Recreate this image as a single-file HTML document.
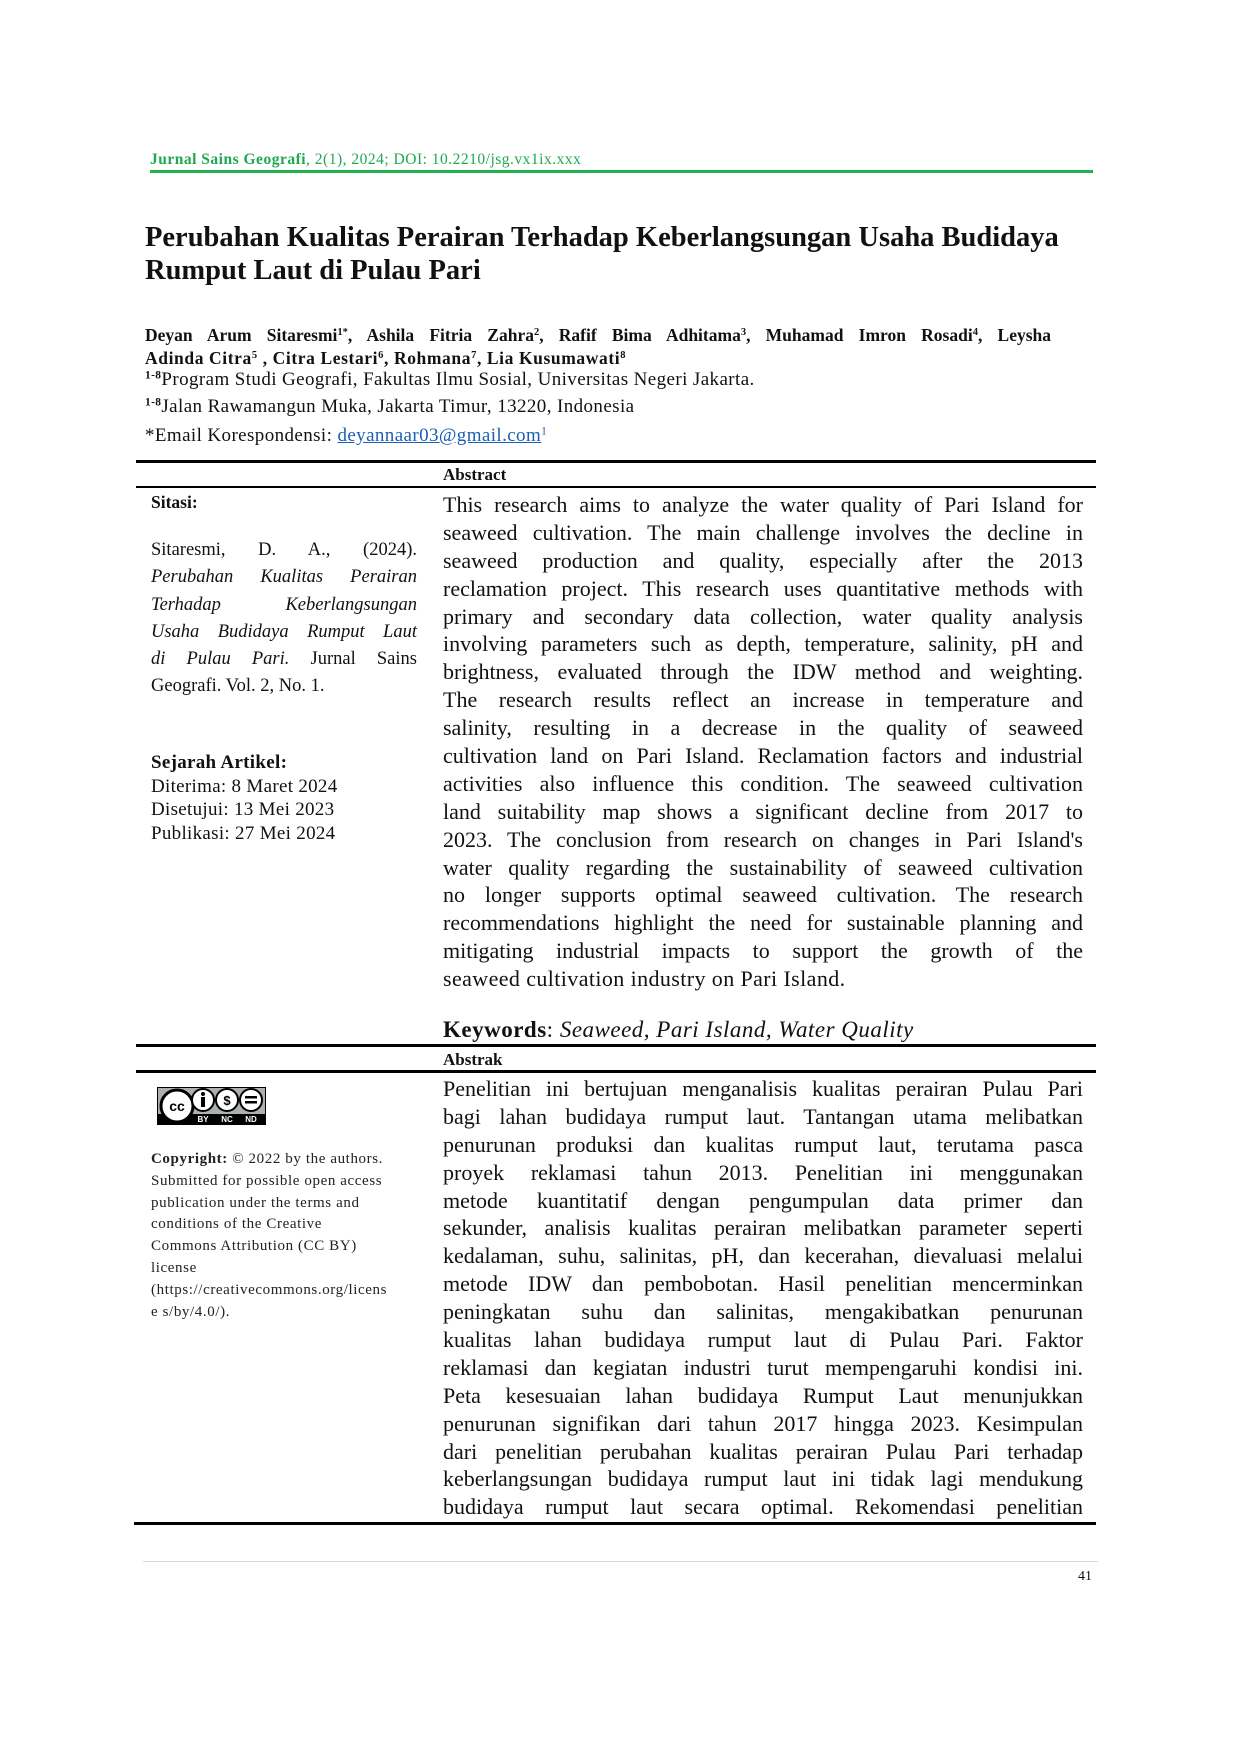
<!DOCTYPE html>
<html><head><meta charset="utf-8">
<style>
*{margin:0;padding:0;box-sizing:border-box}
body{width:1240px;height:1754px;background:#fff;position:relative;font-family:"Liberation Serif",serif;color:#111;overflow:hidden}
.a{position:absolute;white-space:nowrap}
.j{text-align:justify;text-align-last:justify;white-space:normal}
.hr{position:absolute;background:#000}
.blk div{height:27.9px;line-height:27.9px}
sup{font-size:0.6em;line-height:0;vertical-align:0.55em}
</style></head><body>
<div class="a" style="left:150px;top:150px;font-size:15.5px;letter-spacing:0.5px;color:#1fa84f;line-height:20px"><b>Jurnal Sains Geografi</b>, 2(1), 2024; DOI: 10.2210/jsg.vx1ix.xxx</div>
<div class="hr" style="left:150px;top:170px;width:943px;height:3px;background:#1fb24f"></div>

<div class="a" style="left:145px;top:221px;font-size:28.5px;font-weight:bold;line-height:33px">Perubahan Kualitas Perairan Terhadap Keberlangsungan Usaha Budidaya<br>Rumput Laut di Pulau Pari</div>

<div class="a j" style="left:145px;top:324px;width:906px;font-size:17.5px;font-weight:bold;line-height:23px">Deyan Arum Sitaresmi<sup>1*</sup>, Ashila Fitria Zahra<sup>2</sup>, Rafif Bima Adhitama<sup>3</sup>, Muhamad Imron Rosadi<sup>4</sup>, Leysha</div>
<div class="a" style="left:145px;top:347px;font-size:17.5px;letter-spacing:0.6px;font-weight:bold;line-height:23px">Adinda Citra<sup>5</sup> , Citra Lestari<sup>6</sup>, Rohmana<sup>7</sup>, Lia Kusumawati<sup>8</sup></div>
<div class="a" style="left:145px;top:368px;font-size:19px;letter-spacing:0.4px;line-height:23px"><sup><b>1-8</b></sup>Program Studi Geografi, Fakultas Ilmu Sosial, Universitas Negeri Jakarta.</div>
<div class="a" style="left:145px;top:395px;font-size:19px;letter-spacing:0.4px;line-height:23px"><sup><b>1-8</b></sup>Jalan Rawamangun Muka, Jakarta Timur, 13220, Indonesia</div>
<div class="a" style="left:145px;top:424px;font-size:19px;letter-spacing:0.4px;line-height:23px">*Email Korespondensi: <span style="color:#1a5fb4;text-decoration:underline">deyannaar03@gmail.com</span><sup style="color:#1a5fb4">1</sup></div>

<div class="hr" style="left:136px;top:460px;width:960px;height:3px"></div>
<div class="a" style="left:443px;top:465px;font-size:17px;font-weight:bold;line-height:20px">Abstract</div>
<div class="hr" style="left:136px;top:486px;width:960px;height:2px"></div>

<div class="a" style="left:151px;top:492px;font-size:17.5px;font-weight:bold;line-height:20px">Sitasi:</div>
<div class="a" style="left:151px;top:537px;width:266px;font-size:18.5px;line-height:27.3px;white-space:normal">
<div class="j" style="height:27.3px">Sitaresmi, D. A., (2024).</div>
<div class="j" style="height:27.3px"><i>Perubahan Kualitas Perairan</i></div>
<div class="j" style="height:27.3px"><i>Terhadap Keberlangsungan</i></div>
<div class="j" style="height:27.3px"><i>Usaha Budidaya Rumput Laut</i></div>
<div class="j" style="height:27.3px"><i>di Pulau Pari.</i> Jurnal Sains</div>
<div style="height:27.3px">Geografi. Vol. 2, No. 1.</div>
</div>
<div class="a" style="left:151px;top:751px;font-size:19px;letter-spacing:0.3px;line-height:23.5px"><b>Sejarah Artikel:</b><br>Diterima: 8 Maret 2024<br>Disetujui: 13 Mei 2023<br>Publikasi: 27 Mei 2024</div>

<div class="a blk" style="left:443px;top:491px;width:640px;font-size:22px;white-space:normal">
<div class="j">This research aims to analyze the water quality of Pari Island for</div>
<div class="j">seaweed cultivation. The main challenge involves the decline in</div>
<div class="j">seaweed production and quality, especially after the 2013</div>
<div class="j">reclamation project. This research uses quantitative methods with</div>
<div class="j">primary and secondary data collection, water quality analysis</div>
<div class="j">involving parameters such as depth, temperature, salinity, pH and</div>
<div class="j">brightness, evaluated through the IDW method and weighting.</div>
<div class="j">The research results reflect an increase in temperature and</div>
<div class="j">salinity, resulting in a decrease in the quality of seaweed</div>
<div class="j">cultivation land on Pari Island. Reclamation factors and industrial</div>
<div class="j">activities also influence this condition. The seaweed cultivation</div>
<div class="j">land suitability map shows a significant decline from 2017 to</div>
<div class="j">2023. The conclusion from research on changes in Pari Island's</div>
<div class="j">water quality regarding the sustainability of seaweed cultivation</div>
<div class="j">no longer supports optimal seaweed cultivation. The research</div>
<div class="j">recommendations highlight the need for sustainable planning and</div>
<div class="j">mitigating industrial impacts to support the growth of the</div>
<div style="letter-spacing:0.4px">seaweed cultivation industry on Pari Island.</div>
</div>
<div class="a" style="left:443px;top:1017px;font-size:23px;letter-spacing:0.5px;line-height:26px"><b>Keywords</b>: <i>Seaweed, Pari Island, Water Quality</i></div>
<div class="hr" style="left:136px;top:1044px;width:960px;height:3px"></div>
<div class="a" style="left:443px;top:1050px;font-size:17px;font-weight:bold;line-height:20px">Abstrak</div>
<div class="hr" style="left:136px;top:1070px;width:960px;height:3px"></div>

<svg class="a" style="left:157px;top:1087px" width="109" height="38" viewBox="0 0 109 38">
<rect width="109" height="38" fill="#000"/>
<rect x="1" y="1" width="107" height="26" fill="#aab2ab"/>
<circle cx="20" cy="19" r="16" fill="#fff" stroke="#000" stroke-width="3"/>
<text x="20" y="24" font-family="Liberation Sans" font-weight="bold" font-size="14" text-anchor="middle">cc</text>
<circle cx="46" cy="13" r="11" fill="#fff" stroke="#000" stroke-width="2"/>
<circle cx="46" cy="7" r="2" fill="#000"/><rect x="44" y="10" width="4" height="10" fill="#000"/>
<circle cx="70" cy="13" r="11" fill="#fff" stroke="#000" stroke-width="2"/>
<text x="70" y="18" font-family="Liberation Sans" font-weight="bold" font-size="13" text-anchor="middle">$</text>
<circle cx="94" cy="13" r="11" fill="#fff" stroke="#000" stroke-width="2"/>
<rect x="88" y="9" width="12" height="2.5" fill="#000"/><rect x="88" y="14" width="12" height="2.5" fill="#000"/>
<text x="46" y="35" fill="#fff" font-family="Liberation Sans" font-weight="bold" font-size="8" text-anchor="middle">BY</text>
<text x="70" y="35" fill="#fff" font-family="Liberation Sans" font-weight="bold" font-size="8" text-anchor="middle">NC</text>
<text x="94" y="35" fill="#fff" font-family="Liberation Sans" font-weight="bold" font-size="8" text-anchor="middle">ND</text>
</svg>
<div class="a" style="left:151px;top:1149px;font-size:15px;letter-spacing:0.6px;line-height:21.8px;color:#222"><b>Copyright:</b> © 2022 by the authors.<br>Submitted for possible open access<br>publication under the terms and<br>conditions of the Creative<br>Commons Attribution (CC BY)<br>license<br>(https://creativecommons.org/licens<br>e s/by/4.0/).</div>

<div class="a blk" style="left:443px;top:1075px;width:640px;font-size:22px;white-space:normal">
<div class="j">Penelitian ini bertujuan menganalisis kualitas perairan Pulau Pari</div>
<div class="j">bagi lahan budidaya rumput laut. Tantangan utama melibatkan</div>
<div class="j">penurunan produksi dan kualitas rumput laut, terutama pasca</div>
<div class="j">proyek reklamasi tahun 2013. Penelitian ini menggunakan</div>
<div class="j">metode kuantitatif dengan pengumpulan data primer dan</div>
<div class="j">sekunder, analisis kualitas perairan melibatkan parameter seperti</div>
<div class="j">kedalaman, suhu, salinitas, pH, dan kecerahan, dievaluasi melalui</div>
<div class="j">metode IDW dan pembobotan. Hasil penelitian mencerminkan</div>
<div class="j">peningkatan suhu dan salinitas, mengakibatkan penurunan</div>
<div class="j">kualitas lahan budidaya rumput laut di Pulau Pari. Faktor</div>
<div class="j">reklamasi dan kegiatan industri turut mempengaruhi kondisi ini.</div>
<div class="j">Peta kesesuaian lahan budidaya Rumput Laut menunjukkan</div>
<div class="j">penurunan signifikan dari tahun 2017 hingga 2023. Kesimpulan</div>
<div class="j">dari penelitian perubahan kualitas perairan Pulau Pari terhadap</div>
<div class="j">keberlangsungan budidaya rumput laut ini tidak lagi mendukung</div>
<div class="j">budidaya rumput laut secara optimal. Rekomendasi penelitian</div>
</div>
<div class="hr" style="left:134px;top:1522px;width:962px;height:3px"></div>
<div class="hr" style="left:143px;top:1561px;width:955px;height:1px;background:#d8d8d8"></div>
<div class="a" style="left:1078px;top:1569px;font-size:14px;line-height:16px">41</div>
</body></html>
